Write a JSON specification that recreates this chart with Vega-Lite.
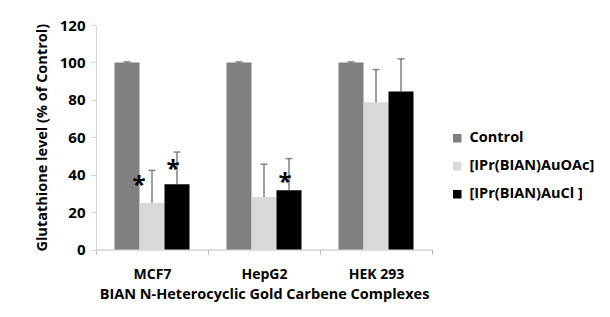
{
  "$schema": "https://vega.github.io/schema/vega-lite/v6.json",
  "width": 336,
  "height": 224.5,
  "autosize": {"type": "none"},
  "padding": {"left": 96, "top": 25, "right": 178, "bottom": 67.5},
  "background": "white",
  "config": {
    "font": "Open Sans",
    "view": {"stroke": null},
    "axisY": {
      "grid": false,
      "labelOverlap": false,
      "domainColor": "#d9d9d9", "tickColor": "#d9d9d9", "tickSize": 6,
      "labelFontSize": 15, "labelFontWeight": "bold", "labelColor": "#000000", "labelPadding": 5,
      "titleFontSize": 14.5, "titleFontWeight": "bold", "titleColor": "#000000", "titlePadding": 10
    }
  },
  "datasets": {
    "bars": [
      {"cell": "MCF7", "series": "Control", "value": 100, "upper": 100.3},
      {"cell": "MCF7", "series": "[IPr(BIAN)AuOAc]", "value": 24.9, "upper": 42.3},
      {"cell": "MCF7", "series": "[IPr(BIAN)AuCl ]", "value": 34.9, "upper": 52.1},
      {"cell": "HepG2", "series": "Control", "value": 100, "upper": 100.3},
      {"cell": "HepG2", "series": "[IPr(BIAN)AuOAc]", "value": 28.1, "upper": 45.6},
      {"cell": "HepG2", "series": "[IPr(BIAN)AuCl ]", "value": 31.7, "upper": 48.6},
      {"cell": "HEK 293", "series": "Control", "value": 100, "upper": 100.3},
      {"cell": "HEK 293", "series": "[IPr(BIAN)AuOAc]", "value": 78.7, "upper": 96.2},
      {"cell": "HEK 293", "series": "[IPr(BIAN)AuCl ]", "value": 84.4, "upper": 101.9}
    ],
    "stars": [
      {"cell": "MCF7", "series": "[IPr(BIAN)AuOAc]", "star": 37.2},
      {"cell": "MCF7", "series": "[IPr(BIAN)AuCl ]", "star": 45.5},
      {"cell": "HepG2", "series": "[IPr(BIAN)AuCl ]", "star": 39}
    ]
  },
  "encoding": {
    "x": {
      "field": "cell", "type": "nominal",
      "scale": {"domain": ["MCF7", "HepG2", "HEK 293"], "paddingInner": 0, "paddingOuter": 0},
      "axis": {
        "title": "BIAN N-Heterocyclic Gold Carbene Complexes",
        "labelAngle": 0, "tickBand": "extent",
        "domainColor": "#bfbfbf", "tickColor": "#bfbfbf", "tickSize": 5,
        "labelFontSize": 14, "labelFontWeight": "bold", "labelColor": "#000000", "labelPadding": 13,
        "titleFontSize": 14.5, "titleFontWeight": "bold", "titleColor": "#000000",
        "titleY": 38, "titleBaseline": "top"
      }
    },
    "xOffset": {
      "field": "series", "type": "nominal",
      "scale": {"domain": ["Control", "[IPr(BIAN)AuOAc]", "[IPr(BIAN)AuCl ]"], "paddingInner": 0, "paddingOuter": 0.74}
    }
  },
  "layer": [
    {
      "data": {"name": "bars"},
      "mark": {"type": "bar"},
      "encoding": {
        "y": {
          "field": "value", "type": "quantitative",
          "scale": {"domain": [0, 120], "nice": false},
          "axis": {"title": "Glutathione level (% of Control)", "values": [0, 20, 40, 60, 80, 100, 120]}
        },
        "color": {
          "field": "series", "type": "nominal",
          "scale": {"domain": ["Control", "[IPr(BIAN)AuOAc]", "[IPr(BIAN)AuCl ]"], "range": ["#808080", "#d9d9d9", "#000000"]},
          "legend": {
            "title": null, "orient": "none", "legendX": 354, "legendY": 106,
            "symbolType": "square", "symbolSize": 72, "symbolStrokeWidth": 0,
            "labelFontSize": 14.5, "labelFontWeight": "bold", "labelColor": "#000000",
            "rowPadding": 13, "labelOffset": 5
          }
        }
      }
    },
    {
      "data": {"name": "bars"},
      "mark": {"type": "rule", "color": "#404040", "strokeWidth": 1},
      "encoding": {
        "y": {"field": "value", "type": "quantitative", "axis": {"title": "Glutathione level (% of Control)", "values": [0, 20, 40, 60, 80, 100, 120]}},
        "y2": {"field": "upper"}
      }
    },
    {
      "data": {"name": "bars"},
      "mark": {"type": "tick", "color": "#595959", "thickness": 1.5, "size": 7, "orient": "horizontal"},
      "encoding": {
        "y": {"field": "upper", "type": "quantitative", "axis": {"title": "Glutathione level (% of Control)", "values": [0, 20, 40, 60, 80, 100, 120]}}
      }
    },
    {
      "data": {"name": "stars"},
      "transform": [{"filter": "datum.series === '[IPr(BIAN)AuOAc]'"}],
      "mark": {"type": "text", "text": "*", "fontSize": 24, "fontWeight": "bold", "baseline": "middle", "dx": -13, "dy": 6, "color": "#000000"},
      "encoding": {
        "y": {"field": "star", "type": "quantitative", "axis": {"title": "Glutathione level (% of Control)", "values": [0, 20, 40, 60, 80, 100, 120]}}
      }
    },
    {
      "data": {"name": "stars"},
      "transform": [{"filter": "datum.series === '[IPr(BIAN)AuCl ]'"}],
      "mark": {"type": "text", "text": "*", "fontSize": 24, "fontWeight": "bold", "baseline": "middle", "dx": -4, "dy": 6, "color": "#000000"},
      "encoding": {
        "y": {"field": "star", "type": "quantitative", "axis": {"title": "Glutathione level (% of Control)", "values": [0, 20, 40, 60, 80, 100, 120]}}
      }
    }
  ]
}
